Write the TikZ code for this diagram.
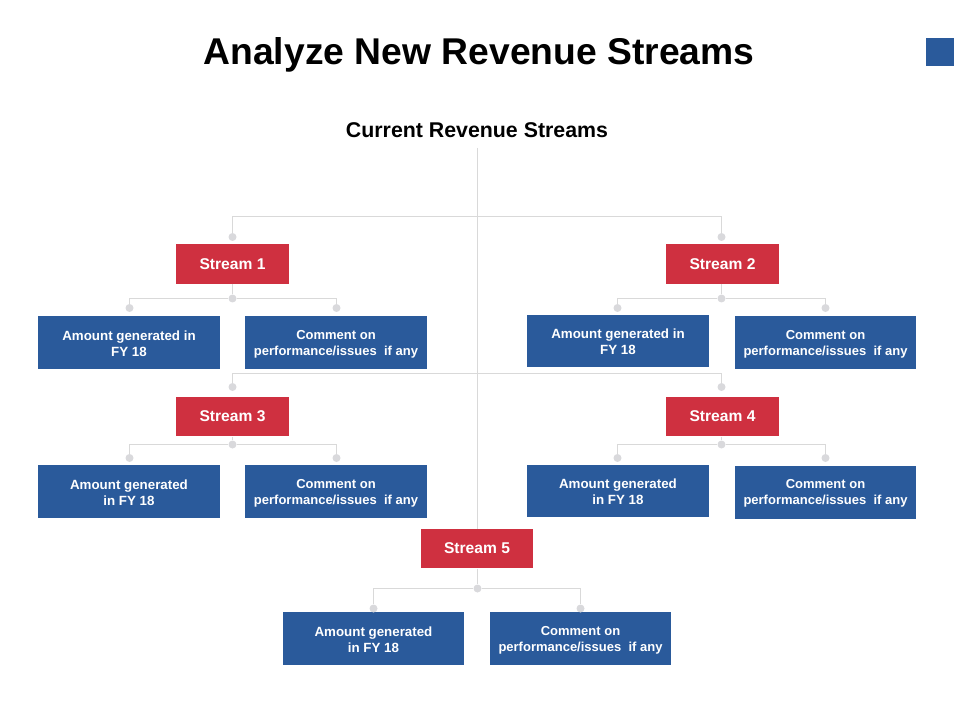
\documentclass[tikz,border=0pt]{standalone}
\usepackage{fontspec}
\setmainfont{Liberation Sans}
\definecolor{lineg}{HTML}{D9D9D9}
\definecolor{dotg}{HTML}{D9D9DC}
\definecolor{boxblue}{HTML}{2A5A9B}
\definecolor{boxred}{HTML}{CF3040}
\tikzset{
  x=0.75pt,y=-0.75pt,
  streambox/.style={fill=boxred,text=white,font=\fontsize{11.7pt}{13pt}\selectfont\bfseries,align=center,inner sep=0pt,minimum width=84.75pt,minimum height=29.6pt},
  infobox/.style={fill=boxblue,text=white,font=\fontsize{9.75pt}{12pt}\selectfont\bfseries,align=center,inner sep=0pt,minimum width=136.5pt,minimum height=39.75pt},
  infonarrow/.style={infobox,minimum width=135.75pt},
  amountbox/.style={infobox,font=\fontsize{10pt}{12pt}\selectfont\bfseries},
  dotn/.style={circle,fill=dotg,inner sep=0pt,minimum size=6pt},
  conn/.style={draw=lineg,line width=1pt},
  titletext/.style={font=\fontsize{27.95pt}{32pt}\selectfont\bfseries,inner sep=0pt},
  subtext/.style={font=\fontsize{16pt}{18pt}\selectfont\bfseries,inner sep=0pt},
}
\newcommand{\lift}{\rule{0pt}{9pt}}
\newcommand{\amtA}{\lift Amount generated in\\FY 18}
\newcommand{\amtB}{\lift Amount generated\\in FY 18}
\newcommand{\cmt}{\lift Comment on\\performance/issues\ \ if any}
\begin{document}
\begin{tikzpicture}
\useasboundingbox (0,0) rectangle (960,720);
\node[titletext] (title) at (479,54.5) {Analyze New Revenue Streams};
\node[subtext] (sub) at (477,130.5) {Current Revenue Streams};
\node[fill=boxblue,minimum size=21pt,inner sep=0pt] (mark) at (940,52) {};
% boxes
\node[streambox] (s1) at (232.5,264) {Stream 1};
\node[streambox] (s2) at (722.5,264) {Stream 2};
\node[streambox] (s3) at (232.5,416.5) {Stream 3};
\node[streambox] (s4) at (722.5,416.5) {Stream 4};
\node[streambox,minimum width=84pt] (s5) at (477,548.5) {Stream 5};
\node[amountbox] (a1) at (129,342.5) {\amtA};
\node[infobox] (c1) at (336,342.5) {\cmt};
\node[amountbox,minimum height=39pt] (a2) at (618,341) {\amtA};
\node[infonarrow] (c2) at (825.5,342.5) {\cmt};
\node[amountbox] (a3) at (129,491.5) {\amtB};
\node[infobox] (c3) at (336,491.5) {\cmt};
\node[amountbox,minimum height=39pt] (a4) at (618,491) {\amtB};
\node[infonarrow] (c4) at (825.5,492) {\cmt};
\node[amountbox,minimum width=135.75pt] (a5) at (373.5,638.5) {\amtB};
\node[infonarrow] (c5) at (580.5,638.5) {\cmt};
% dots
\node[dotn] (d1) at (232.5,237) {};
\node[dotn] (d2) at (721.5,237) {};
\node[dotn] (d3) at (232.5,387) {};
\node[dotn] (d4) at (721.5,387) {};
\node[dotn] (j1) at (232.5,298.5) {};
\node[dotn] (j2) at (721.5,298.5) {};
\node[dotn] (j3) at (232.5,444.5) {};
\node[dotn] (j4) at (721.5,444.5) {};
\node[dotn] (j5) at (477.5,588.5) {};
\node[dotn] (a1d) at (129.5,308) {};
\node[dotn] (c1d) at (336.5,308) {};
\node[dotn] (a2d) at (617.5,308) {};
\node[dotn] (c2d) at (825.5,308) {};
\node[dotn] (a3d) at (129.5,458) {};
\node[dotn] (c3d) at (336.5,458) {};
\node[dotn] (a4d) at (617.5,458) {};
\node[dotn] (c4d) at (825.5,458) {};
\node[dotn] (a5d) at (373.5,608.5) {};
\node[dotn] (c5d) at (580.5,608.5) {};
\coordinate (top) at (477.5,148);
\coordinate (t1) at (477.5,216.5);
\coordinate (t2) at (477.5,373.5);
% connectors
\draw[conn] (top) -- (t2) -- (t2 |- s5.north);
\draw[conn] (t1) -| (d1);
\draw[conn] (t1) -| (d2);
\draw[conn] (t2) -| (d3);
\draw[conn] (t2) -| (d4);
\foreach \n in {1,2,3,4,5}{
  \draw[conn] (s\n.south -| j\n) -- (j\n);
  \draw[conn] (j\n) -| (a\n d);
  \draw[conn] (j\n) -| (c\n d);
}
\end{tikzpicture}
\end{document}
